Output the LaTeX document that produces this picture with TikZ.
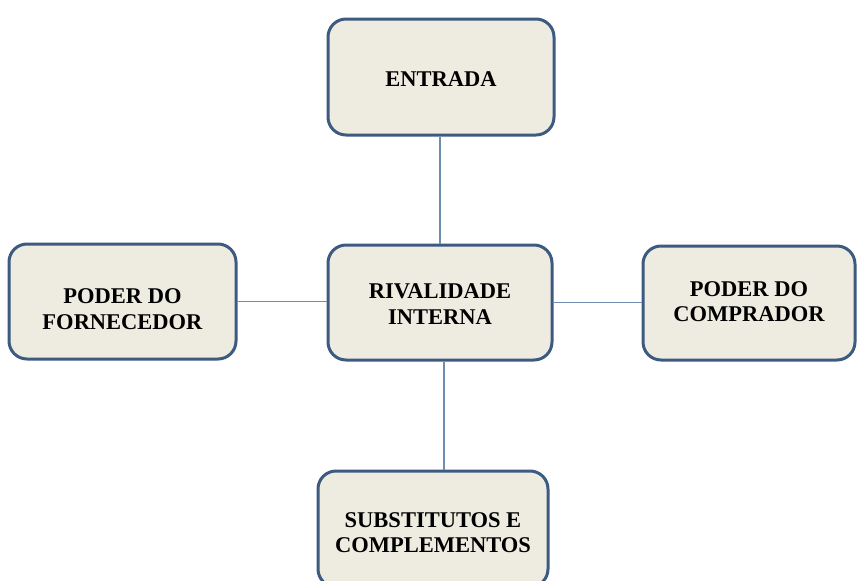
\documentclass[tikz,border=0pt]{standalone}
\usepackage{fontspec}
\setmainfont{Liberation Serif}
\definecolor{boxfill}{HTML}{EEECE1}
\definecolor{boxline}{HTML}{3D5A80}
\definecolor{connline}{HTML}{6F8DB3}
\newcommand{\forcetext}[2]{\raisebox{-#1}[0pt][0pt]{\begin{tabular}{@{}c@{}}#2\end{tabular}}}
\begin{document}
\begin{tikzpicture}[x=1pt,y=-1pt,
  forcebox/.style={draw=boxline, line width=3pt, fill=boxfill, rounded corners=18pt,
    align=center, inner sep=0pt, font=\fontsize{22.5}{25.5}\selectfont\bfseries},
  conn/.style={draw=connline, line width=1.3pt}]
\useasboundingbox (0,0) rectangle (857,581);
\node[forcebox, minimum width=226pt, minimum height=116pt] (top) at (441,77) {\forcetext{10pt}{ENTRADA}};
\node[forcebox, minimum width=224pt, minimum height=115pt] (mid) at (440,302.5) {\forcetext{9pt}{RIVALIDADE\\INTERNA}};
\node[forcebox, minimum width=227pt, minimum height=115pt] (lft) at (122.5,301.5) {\forcetext{15pt}{PODER DO\\FORNECEDOR}};
\node[forcebox, minimum width=212pt, minimum height=114pt] (rgt) at (749,303) {\forcetext{6pt}{PODER DO\\COMPRADOR}};
\node[forcebox, minimum width=230pt, minimum height=116pt] (bot) at (433,529) {\forcetext{11pt}{SUBSTITUTOS E\\COMPLEMENTOS}};
\draw[conn] ([xshift=-1pt]top.south) -- ([xshift=-1pt]top.south |- mid.north);
\draw[conn] (lft.east) -- (lft.east -| mid.west);
\draw[conn] (mid.east) -- (mid.east -| rgt.west);
\draw[conn] ([xshift=4pt]mid.south) -- ([xshift=4pt]mid.south |- bot.north);
\end{tikzpicture}
\end{document}
